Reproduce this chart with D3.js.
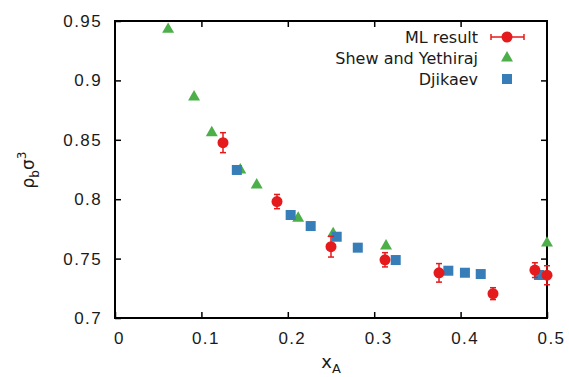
<!DOCTYPE html>
<html>
<head>
<meta charset="utf-8">
<script src="https://cdn.jsdelivr.net/npm/d3@7"></script>
<style>
  body { margin: 0; background: #fff; }
  svg { display: block; font-family: "DejaVu Sans", sans-serif; }
</style>
</head>
<body>
<svg id="chart" width="569" height="377"></svg>
<script>
// ML result (x, y, y error)
const mlX = [0.125, 0.1875, 0.25, 0.3125, 0.375, 0.4375, 0.486, 0.5];
const mlY = [0.8476, 0.798, 0.760, 0.749, 0.738, 0.7205, 0.7403, 0.736];
const mlErr = [0.0084, 0.006, 0.0087, 0.006, 0.0078, 0.005, 0.0062, 0.008];

// Shew and Yethiraj
const syX = [0.0615, 0.0915, 0.112, 0.145, 0.164, 0.212, 0.2525, 0.3137, 0.5];
const syY = [0.943, 0.886, 0.856, 0.8246, 0.812, 0.784, 0.771, 0.7606, 0.763];

// Djikaev
const djX = [0.141, 0.2033, 0.2265, 0.2566, 0.281, 0.3249, 0.3858, 0.405, 0.4233, 0.4907];
const djY = [0.8246, 0.7867, 0.7774, 0.7684, 0.7592, 0.7488, 0.7398, 0.7381, 0.737, 0.7362];

const xTicks = [0, 0.1, 0.2, 0.3, 0.4, 0.5];
const yTicks = [0.7, 0.75, 0.8, 0.85, 0.9, 0.95];

const colors = { ml: "#e41a1c", sy: "#4daf4a", dj: "#377eb8" };

const svg = d3.select("#chart");
const margin = { top: 21, right: 22, bottom: 59, left: 115 };
const width = 569, height = 377;

const x = d3.scaleLinear().domain([0, 0.5]).range([margin.left, width - margin.right]);
const y = d3.scaleLinear().domain([0.7, 0.95]).range([height - margin.bottom, margin.top]);

const tickLen = 6;

// axes with inward ticks on all sides
svg.append("g")
  .attr("class", "xaxis")
  .attr("transform", `translate(0,${y(0.7)})`)
  .call(d3.axisBottom(x).tickValues(xTicks).tickSize(-tickLen).tickPadding(14)
    .tickFormat(d => d === 0 ? "0" : d3.format("")(d)))
  .call(g => g.select(".domain").remove());
svg.append("g")
  .attr("transform", `translate(0,${y(0.95)})`)
  .call(d3.axisTop(x).tickValues(xTicks.slice(1, -1)).tickSize(-tickLen).tickFormat(""))
  .call(g => g.select(".domain").remove());
svg.append("g")
  .attr("transform", `translate(${x(0)},0)`)
  .call(d3.axisLeft(y).tickValues(yTicks).tickSize(-tickLen).tickPadding(13)
    .tickFormat(d => d3.format("")(+d.toFixed(2))))
  .call(g => g.select(".domain").remove());
svg.append("g")
  .attr("transform", `translate(${x(0.5)},0)`)
  .call(d3.axisRight(y).tickValues(yTicks.slice(1, -1)).tickSize(-tickLen).tickFormat(""))
  .call(g => g.select(".domain").remove());

svg.selectAll(".tick line").attr("stroke", "#000").attr("stroke-width", 1.5);
svg.selectAll(".tick text")
  .attr("fill", "#1a1a1a")
  .style("font-size", "17px")
  .style("letter-spacing", "1.4px");
svg.selectAll(".xaxis .tick text").attr("dx", 4);

// frame
svg.append("rect")
  .attr("x", x(0)).attr("y", y(0.95))
  .attr("width", x(0.5) - x(0)).attr("height", y(0.7) - y(0.95))
  .attr("fill", "none").attr("stroke", "#000").attr("stroke-width", 2);

// axis titles
const xt = svg.append("text")
  .attr("x", 331).attr("y", 368)
  .attr("text-anchor", "middle")
  .style("font-size", "18px").attr("fill", "#1a1a1a");
xt.append("tspan").text("x");
xt.append("tspan").attr("dy", 5).style("font-size", "13px").text("A");

const yt = svg.append("text")
  .attr("transform", "translate(34,170) rotate(-90)")
  .attr("text-anchor", "middle")
  .style("font-size", "17px").attr("fill", "#1a1a1a");
yt.append("tspan").text("ρ");
yt.append("tspan").attr("dy", 5).style("font-size", "12px").text("b");
yt.append("tspan").attr("dy", -5).text("σ");
yt.append("tspan").attr("dy", -8).style("font-size", "12px").text("3");

// marker helpers
const triangle = d3.symbol().type(d3.symbolTriangle).size(62);

const sy = syX.map((v, i) => ({ x: v, y: syY[i] }));
const dj = djX.map((v, i) => ({ x: v, y: djY[i] }));
const ml = mlX.map((v, i) => ({ x: v, y: mlY[i], e: mlErr[i] }));

svg.append("g").selectAll("path").data(sy).join("path")
  .attr("d", triangle)
  .attr("transform", d => `translate(${x(d.x)},${y(d.y)})`)
  .attr("fill", colors.sy);

const sq = 10;
svg.append("g").selectAll("rect").data(dj).join("rect")
  .attr("x", d => x(d.x) - sq / 2).attr("y", d => y(d.y) - sq / 2)
  .attr("width", sq).attr("height", sq)
  .attr("fill", colors.dj);

const mlG = svg.append("g").selectAll("g").data(ml).join("g")
  .attr("stroke", colors.ml).attr("stroke-width", 1.5);
mlG.append("line")
  .attr("x1", d => x(d.x)).attr("x2", d => x(d.x))
  .attr("y1", d => y(d.y + d.e)).attr("y2", d => y(d.y - d.e));
mlG.append("line")
  .attr("x1", d => x(d.x) - 3).attr("x2", d => x(d.x) + 3)
  .attr("y1", d => y(d.y + d.e)).attr("y2", d => y(d.y + d.e));
mlG.append("line")
  .attr("x1", d => x(d.x) - 3).attr("x2", d => x(d.x) + 3)
  .attr("y1", d => y(d.y - d.e)).attr("y2", d => y(d.y - d.e));
mlG.append("circle")
  .attr("cx", d => x(d.x)).attr("cy", d => y(d.y)).attr("r", 5.5)
  .attr("fill", colors.ml).attr("stroke", "none");

// legend
const legend = svg.append("g").attr("transform", "translate(478,0)");
const legendRows = [
  { label: "ML result", key: "ml", cy: 37 },
  { label: "Shew and Yethiraj", key: "sy", cy: 58 },
  { label: "Djikaev", key: "dj", cy: 79 }
];
legend.selectAll("text").data(legendRows).join("text")
  .attr("x", 0).attr("y", d => d.cy).attr("dy", "0.35em")
  .attr("text-anchor", "end")
  .style("font-size", "16px").attr("fill", "#1a1a1a")
  .text(d => d.label);

const mx = 507;
svg.append("line").attr("x1", 491).attr("x2", 524).attr("y1", 37).attr("y2", 37)
  .attr("stroke", colors.ml).attr("stroke-width", 1.5);
[491, 524].forEach(px => svg.append("line")
  .attr("x1", px).attr("x2", px).attr("y1", 34).attr("y2", 40)
  .attr("stroke", colors.ml).attr("stroke-width", 1.5));
svg.append("circle").attr("cx", mx).attr("cy", 37).attr("r", 5.5).attr("fill", colors.ml);
svg.append("path").attr("d", triangle).attr("transform", `translate(${mx},58)`).attr("fill", colors.sy);
svg.append("rect").attr("x", mx - sq / 2).attr("y", 79 - sq / 2).attr("width", sq).attr("height", sq).attr("fill", colors.dj);
</script>
</body>
</html>
